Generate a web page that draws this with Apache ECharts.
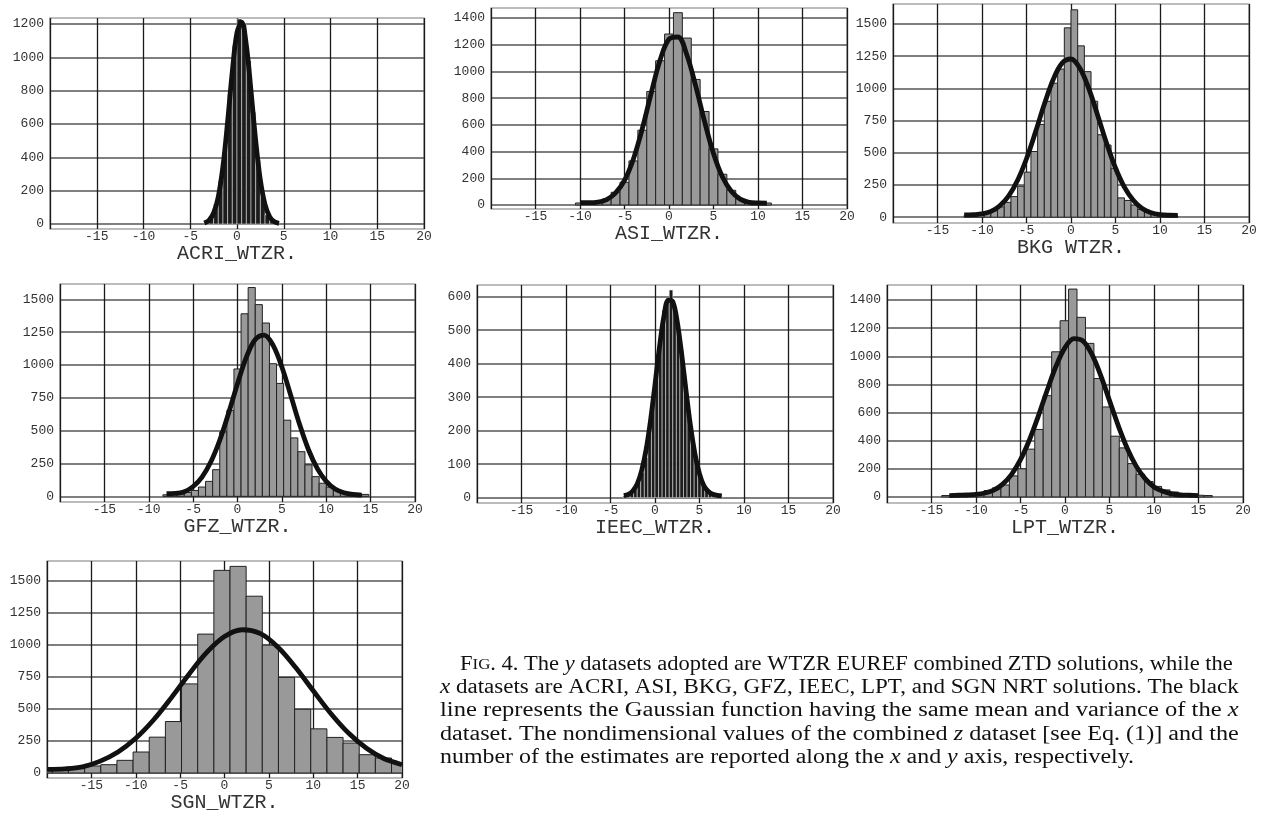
<!DOCTYPE html>
<html>
<head>
<meta charset="utf-8">
<script src="https://cdn.jsdelivr.net/npm/echarts@6/dist/echarts.min.js"></script>
<style>
html,body{margin:0;padding:0;background:#fff;}
#c{width:1265px;height:815px;}
</style>
</head>
<body>
<div id="c"></div>
<script>
// ---------------- DATA ----------------
const xTicks = [-15, -10, -5, 0, 5, 10, 15, 20];

const yTicksAcri = [0, 200, 400, 600, 800, 1000, 1200];
const yTicksAsi  = [0, 200, 400, 600, 800, 1000, 1200, 1400];
const yTicksBkg  = [0, 250, 500, 750, 1000, 1250, 1500];
const yTicksGfz  = [0, 250, 500, 750, 1000, 1250, 1500];
const yTicksIeec = [0, 100, 200, 300, 400, 500, 600];
const yTicksLpt  = [0, 200, 400, 600, 800, 1000, 1200, 1400];
const yTicksSgn  = [0, 250, 500, 750, 1000, 1250, 1500];

// ACRI
const acriBinWidth = 0.5;
const acriBins   = [-3.25,-2.75,-2.25,-1.75,-1.25,-0.75,-0.25,0.25,0.75,1.25,1.75,2.25,2.75,3.25,3.75,4.25];
const acriCounts = [10,40,120,260,470,780,1070,1230,1200,980,670,380,160,55,18,6];
const acriCurveX = [-3.5,-3,-2.5,-2,-1.5,-1,-0.5,0,0.5,1,1.5,2,2.5,3,3.5,4,4.5];
const acriCurveY = [6,22,66,164,347,616,917,1149,1211,1072,798,500,263,116,43,13,4];

// ASI
const asiBinWidth = 1;
const asiBins   = [-10,-9,-8,-7,-6,-5,-4,-3,-2,-1,0,1,2,3,4,5,6,7,8,9,10,11];
const asiCounts = [15,20,25,45,95,170,330,560,850,1080,1280,1440,1250,940,700,420,230,110,45,25,20,15];
const asiCurveX = [-10,-9,-8,-7,-6,-5,-4,-3,-2,-1,0,1,2,3,4,5,6,7,8,9,10,11];
const asiCurveY = [18,18,22,40,90,184,345,572,838,1085,1242,1258,1125,891,624,386,211,102,44,20,15,14];

// BKG
const bkgBinWidth = 0.75;
const bkgBins   = [-11.625,-10.875,-10.125,-9.375,-8.625,-7.875,-7.125,-6.375,-5.625,-4.875,-4.125,-3.375,-2.625,-1.875,-1.125,-0.375,0.375,1.125,1.875,2.625,3.375,4.125,4.875,5.625,6.375,7.125,7.875,8.625,9.375,10.125,10.875,11.625];
const bkgCounts = [15,10,20,30,50,80,115,160,240,350,510,720,900,1040,1150,1470,1610,1330,1130,900,640,560,380,150,130,95,60,45,30,20,15,10];
const bkgCurveX = [-12,-11,-10,-9,-8,-7,-6,-5,-4,-3,-2,-1,0,1,2,3,4,5,6,7,8,9,10,11,12];
const bkgCurveY = [18,20,25,45,89,166,287,454,659,876,1069,1196,1228,1156,998,790,574,382,233,131,67,35,20,15,14];

// GFZ
const gfzBinWidth = 0.8;
const gfzBins   = [-8.0,-7.2,-6.4,-5.6,-4.8,-4.0,-3.2,-2.4,-1.6,-0.8,0.0,0.8,1.6,2.4,3.2,4.0,4.8,5.6,6.4,7.2,8.0,8.8,9.6,10.4,11.2,12.0,12.8,13.6,14.4];
const gfzCounts = [12,15,20,30,45,71,114,203,490,655,970,1390,1590,1460,1320,1010,860,580,445,340,240,150,100,70,45,30,20,12,15];
const gfzCurveX = [-8,-7,-6,-5,-4,-3,-2,-1,0,1,2,3,4,5,6,7,8,9,10,11,12,13,14];
const gfzCurveY = [20,22,35,75,147,263,427,634,858,1060,1194,1228,1151,985,769,547,355,211,114,56,28,15,10];

// IEEC
const ieecBinWidth = 0.4;
const ieecBins   = [-3.4,-3.0,-2.6,-2.2,-1.8,-1.4,-1.0,-0.6,-0.2,0.2,0.6,1.0,1.4,1.8,2.2,2.6,3.0,3.4,3.8,4.2,4.6,5.0,5.4,5.8,6.2,6.6,7.0,7.4];
const ieecCounts = [5,8,15,25,45,75,120,190,280,380,470,560,590,620,570,520,440,340,260,180,120,70,40,22,12,8,5,3];
const ieecCurveX = [-3.5,-3,-2.5,-2,-1.5,-1,-0.5,0,0.5,1,1.5,2,2.5,3,3.5,4,4.5,5,5.5,6,6.5,7,7.5];
const ieecCurveY = [6,10,20,41,81,143,231,338,449,541,590,585,525,428,316,212,129,71,35,18,10,7,5];

// LPT
const lptBinWidth = 0.95;
const lptBins   = [-13.375,-12.425,-11.475,-10.525,-9.575,-8.625,-7.675,-6.725,-5.775,-4.825,-3.875,-2.925,-1.975,-1.025,-0.075,0.875,1.825,2.775,3.725,4.675,5.625,6.575,7.525,8.475,9.425,10.375,11.325,12.275,13.225,14.175,15.125,16.075];
const lptCounts = [10,12,15,20,30,45,65,85,150,200,340,480,720,1032,1253,1478,1277,1092,842,640,432,349,237,161,110,75,50,35,22,15,12,10];
const lptCurveX = [-13,-12,-11,-10,-9,-8,-7,-6,-5,-4,-3,-2,-1,0,1,2,3,4,5,6,7,8,9,10,11,12,13,14,15];
const lptCurveY = [10,12,14,18,28,48,91,161,265,405,575,759,931,1062,1126,1110,1017,866,685,504,345,219,130,71,40,22,14,12,10];

// SGN
const sgnBinWidth = 1.82;
const sgnBins   = [-20.31,-18.49,-16.67,-14.85,-13.03,-11.21,-9.39,-7.57,-5.75,-3.93,-2.11,-0.29,1.53,3.35,5.17,6.99,8.81,10.63,12.45,14.27,16.09,17.91,19.73];
const sgnCounts = [30,40,45,55,65,99,164,280,402,696,1085,1583,1614,1381,999,747,498,345,278,234,143,117,78];
const sgnCurveX = [-20,-18,-16,-14,-12,-10,-8,-6,-4,-2,0,2,4,6,8,10,12,14,16,18,20];
const sgnCurveY = [28,32,48,93,164,271,414,587,772,942,1066,1119,1090,985,826,642,463,310,193,111,65];

const panelNames = ['ACRI_WTZR.', 'ASI_WTZR.', 'BKG WTZR.', 'GFZ_WTZR.', 'IEEC_WTZR.', 'LPT_WTZR.', 'SGN_WTZR.'];

const captionLines = [
  'F{sc|IG}. 4. The {i|y} datasets adopted are WTZR EUREF combined ZTD solutions, while the',
  '{i|x} datasets are ACRI, ASI, BKG, GFZ, IEEC, LPT, and SGN NRT solutions. The black',
  'line represents the Gaussian function having the same mean and variance of the {i|x}',
  'dataset. The nondimensional values of the combined {i|z} dataset [see Eq. (1)] and the',
  'number of the estimates are reported along the {i|x} and {i|y} axis, respectively.'
];

// ---------------- LAYOUT / STYLE ----------------
const panels = [
  {bins: acriBins, counts: acriCounts, w: acriBinWidth, cx: acriCurveX, cy: acriCurveY, yTicks: yTicksAcri, dark: true},
  {bins: asiBins,  counts: asiCounts,  w: asiBinWidth,  cx: asiCurveX,  cy: asiCurveY,  yTicks: yTicksAsi,  dark: false},
  {bins: bkgBins,  counts: bkgCounts,  w: bkgBinWidth,  cx: bkgCurveX,  cy: bkgCurveY,  yTicks: yTicksBkg,  dark: false},
  {bins: gfzBins,  counts: gfzCounts,  w: gfzBinWidth,  cx: gfzCurveX,  cy: gfzCurveY,  yTicks: yTicksGfz,  dark: false},
  {bins: ieecBins, counts: ieecCounts, w: ieecBinWidth, cx: ieecCurveX, cy: ieecCurveY, yTicks: yTicksIeec, dark: true},
  {bins: lptBins,  counts: lptCounts,  w: lptBinWidth,  cx: lptCurveX,  cy: lptCurveY,  yTicks: yTicksLpt,  dark: false},
  {bins: sgnBins,  counts: sgnCounts,  w: sgnBinWidth,  cx: sgnCurveX,  cy: sgnCurveY,  yTicks: yTicksSgn,  dark: false}
];
const layout = [
  {left: 50,  top: 18,  width: 374, height: 211, yMin: -30, yMax: 1236},
  {left: 491, top: 8,   width: 356, height: 201, yMin: -30, yMax: 1475},
  {left: 893, top: 4,   width: 356, height: 219, yMin: -45, yMax: 1655},
  {left: 60,  top: 284, width: 355, height: 218, yMin: -43, yMax: 1617},
  {left: 477, top: 285, width: 356, height: 218, yMin: -16, yMax: 635},
  {left: 887, top: 285, width: 356, height: 218, yMin: -43, yMax: 1507},
  {left: 47,  top: 561, width: 355, height: 217, yMin: -39, yMax: 1656}
];

const MONO = '"Liberation Mono", "DejaVu Sans Mono", monospace';
const SERIF = '"Liberation Serif", "DejaVu Serif", serif';

const grids = [], xAxes = [], yAxes = [], series = [];
panels.forEach((p, i) => {
  const L = layout[i];
  grids.push({
    left: L.left, top: L.top, width: L.width, height: L.height,
    show: true, borderColor: '#7a7a7a', borderWidth: 1.2, backgroundColor: '#fff',
    containLabel: false, outerBoundsMode: 'none'
  });
  xAxes.push({
    type: 'value', gridIndex: i, min: -20, max: 20, interval: 5,
    name: panelNames[i], nameLocation: 'middle', nameGap: 3,
    nameTextStyle: {fontFamily: MONO, fontSize: 20, color: '#333', verticalAlign: 'top'},
    axisLine: {show: false}, axisTick: {show: false},
    axisLabel: {
      fontFamily: MONO, fontSize: 13, color: '#333', margin: 1,
      formatter: v => (xTicks.indexOf(v) >= 0 ? String(v) : '')
    },
    splitLine: {show: true, lineStyle: {color: '#1a1a1a', width: 1.3}}
  });
  yAxes.push({
    type: 'value', gridIndex: i, min: L.yMin, max: L.yMax,
    axisLine: {show: false},
    axisTick: {show: false, customValues: p.yTicks},
    axisLabel: {customValues: p.yTicks, fontFamily: MONO, fontSize: 13, color: '#333', margin: 6,
      formatter: v => String(v)},
    splitLine: {show: true, lineStyle: {color: '#555', width: 1.6}}
  });
  const w = p.w;
  const fill = p.dark ? '#1c1c1c' : '#999999';
  const stroke = p.dark ? 'rgba(235,235,235,0.75)' : '#222';
  const lw = p.dark ? 0.7 : 1;
  series.push({
    type: 'custom', xAxisIndex: i, yAxisIndex: i, clip: true, silent: true, z: 3,
    data: p.bins.map((c, j) => [c, p.counts[j]]),
    renderItem: function (params, api) {
      const c = api.value(0), v = api.value(1);
      const a = api.coord([c - w / 2, 0]);
      const b = api.coord([c + w / 2, v]);
      return {
        type: 'rect',
        shape: {x: a[0], y: b[1], width: b[0] - a[0], height: a[1] - b[1]},
        style: {fill: fill, stroke: stroke, lineWidth: lw}
      };
    }
  });
  series.push({
    type: 'line', xAxisIndex: i, yAxisIndex: i, clip: true, silent: true, z: 5,
    data: p.cx.map((x, j) => [x, p.cy[j]]),
    smooth: 0.35, symbol: 'none', showSymbol: false,
    lineStyle: {color: '#111', width: 4.8}
  });
});

// caption: measure natural width to justify lines to the reference extents
const capFontSize = 20;
const meas = document.createElement('canvas').getContext('2d');
meas.font = capFontSize + 'px "Liberation Serif"';
function plain(s) { return s.replace(/\{[a-z]+\|([^}]*)\}/g, '$1'); }
const capLeft = [460, 440, 440, 440, 440];
const capRight = [1240, 1240, 1240, 1240, null];
const capY = [665, 688, 711, 735, 758];
const scales = captionLines.map((t, k) => capRight[k] ? (capRight[k] - capLeft[k]) / meas.measureText(plain(t)).width : null);
const avgScale = (scales[1] + scales[2] + scales[3]) / 3;
const graphic = captionLines.map((t, k) => ({
  type: 'text', x: capLeft[k], y: capY[k], scaleX: scales[k] || avgScale, silent: true,
  style: {
    text: t, fontFamily: SERIF, fontSize: capFontSize, fill: '#111',
    verticalAlign: 'middle', align: 'left',
    rich: {
      i: {fontFamily: SERIF, fontSize: capFontSize, fontStyle: 'italic', fill: '#111'},
      sc: {fontFamily: SERIF, fontSize: 15, fill: '#111'}
    }
  }
}));

const chart = echarts.init(document.getElementById('c'), null, {renderer: 'canvas'});
chart.setOption({
  animation: false,
  backgroundColor: '#fff',
  grid: grids, xAxis: xAxes, yAxis: yAxes, series: series,
  graphic: graphic
});
</script>
</body>
</html>
